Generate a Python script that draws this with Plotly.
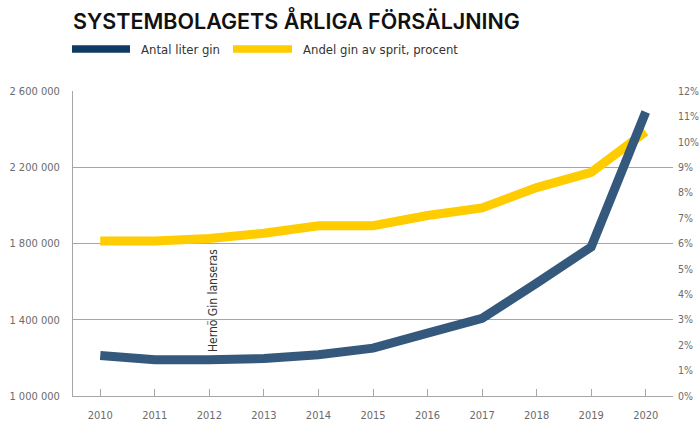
import plotly.graph_objects as go

years = ["2010", "2011", "2012", "2013", "2014", "2015", "2016", "2017", "2018", "2019", "2020"]
liter_gin = [1213000, 1190000, 1190000, 1197000, 1216000, 1251000, 1330000, 1408000, 1592000, 1782000, 2490000]
andel_gin = [6.1, 6.1, 6.2, 6.4, 6.7, 6.7, 7.1, 7.4, 8.2, 8.8, 10.4]
left_ticks = [1000000, 1400000, 1800000, 2200000, 2600000]
right_ticks = list(range(0, 13))
right_labels = [f"{v}%" for v in right_ticks]
launch_year = "2012"

BLUE = "#35587d"
BLUE_LEG = "#0f3a62"
YELLOW = "#ffcc00"
GRID = "#a6a6a6"
COND = "DejaVu Sans Condensed, Liberation Sans Narrow, Roboto Condensed, sans-serif"
TICKFONT = dict(family=COND, size=11, color="#6b6b6b")

L, R, T, B = 73, 27, 91, 28
W, H = 700, 424
PW, PH = W - L - R, H - T - B

def px(x):
    return (x - L) / PW

def py(y):
    return (H - B - y) / PH

fig = go.Figure()
fig.add_trace(go.Scatter(x=years, y=andel_gin, yaxis="y", mode="lines",
                         line=dict(color=YELLOW, width=9), name="Andel gin av sprit, procent"))
fig.add_trace(go.Scatter(x=years, y=liter_gin, yaxis="y2", mode="lines",
                         line=dict(color=BLUE, width=9), name="Antal liter gin"))

fig.update_layout(
    width=W, height=H,
    margin=dict(l=L, r=R, t=T, b=B, autoexpand=False),
    paper_bgcolor="white", plot_bgcolor="white",
    showlegend=False,
    separators=", ",
    xaxis=dict(type="category", range=[-0.5, 10.5], showgrid=False, automargin=False,
               showline=True, linecolor=GRID, linewidth=1,
               ticks="inside", ticklen=7, tickcolor=GRID, tickwidth=1,
               tickfont=TICKFONT, ticklabelstandoff=9, zeroline=False),
    yaxis=dict(side="right", range=[0, 12], tickvals=right_ticks, ticktext=right_labels,
               showgrid=False, zeroline=False, automargin=False,
               showline=False, tickfont=dict(TICKFONT, size=10.5), ticklabelstandoff=4),
    yaxis2=dict(side="left", overlaying="y", range=[1000000, 2600000],
                tickvals=left_ticks, tickformat=",d", showgrid=True, automargin=False,
                gridcolor=GRID, gridwidth=1, zeroline=False,
                showline=True, linecolor=GRID, linewidth=1,
                tickfont=TICKFONT, ticklabelstandoff=10),
)

annotations = [
    dict(text="SYSTEMBOLAGETS ÅRLIGA FÖRSÄLJNING", xref="paper", yref="paper",
         x=px(71), y=py(21), xanchor="left", yanchor="middle", showarrow=False,
         font=dict(family="Inter", size=21.5, color="#111111", weight=600)),
    dict(text="Antal liter gin", xref="paper", yref="paper",
         x=px(139), y=py(50), xanchor="left", yanchor="middle", showarrow=False,
         font=dict(family=COND, size=13, color="#333333")),
    dict(text="Andel gin av sprit, procent", xref="paper", yref="paper",
         x=px(301), y=py(50), xanchor="left", yanchor="middle", showarrow=False,
         font=dict(family=COND, size=13, color="#333333")),
    dict(text="Hernö Gin lanseras", xref="x", yref="y2", x=years.index(launch_year), y=1500000,
         xshift=3, textangle=-90, showarrow=False, xanchor="center", yanchor="middle",
         font=dict(family=COND, size=12, color="#333333")),
]
fig.update_layout(annotations=annotations)

fig.update_layout(shapes=[
    dict(type="rect", xref="paper", yref="paper", x0=px(72), x1=px(130),
         y0=py(52.7), y1=py(45.3), fillcolor=BLUE_LEG, line=dict(width=0)),
    dict(type="rect", xref="paper", yref="paper", x0=px(233), x1=px(292),
         y0=py(52.7), y1=py(45.3), fillcolor=YELLOW, line=dict(width=0)),
])

fig.write_html("out.html")
